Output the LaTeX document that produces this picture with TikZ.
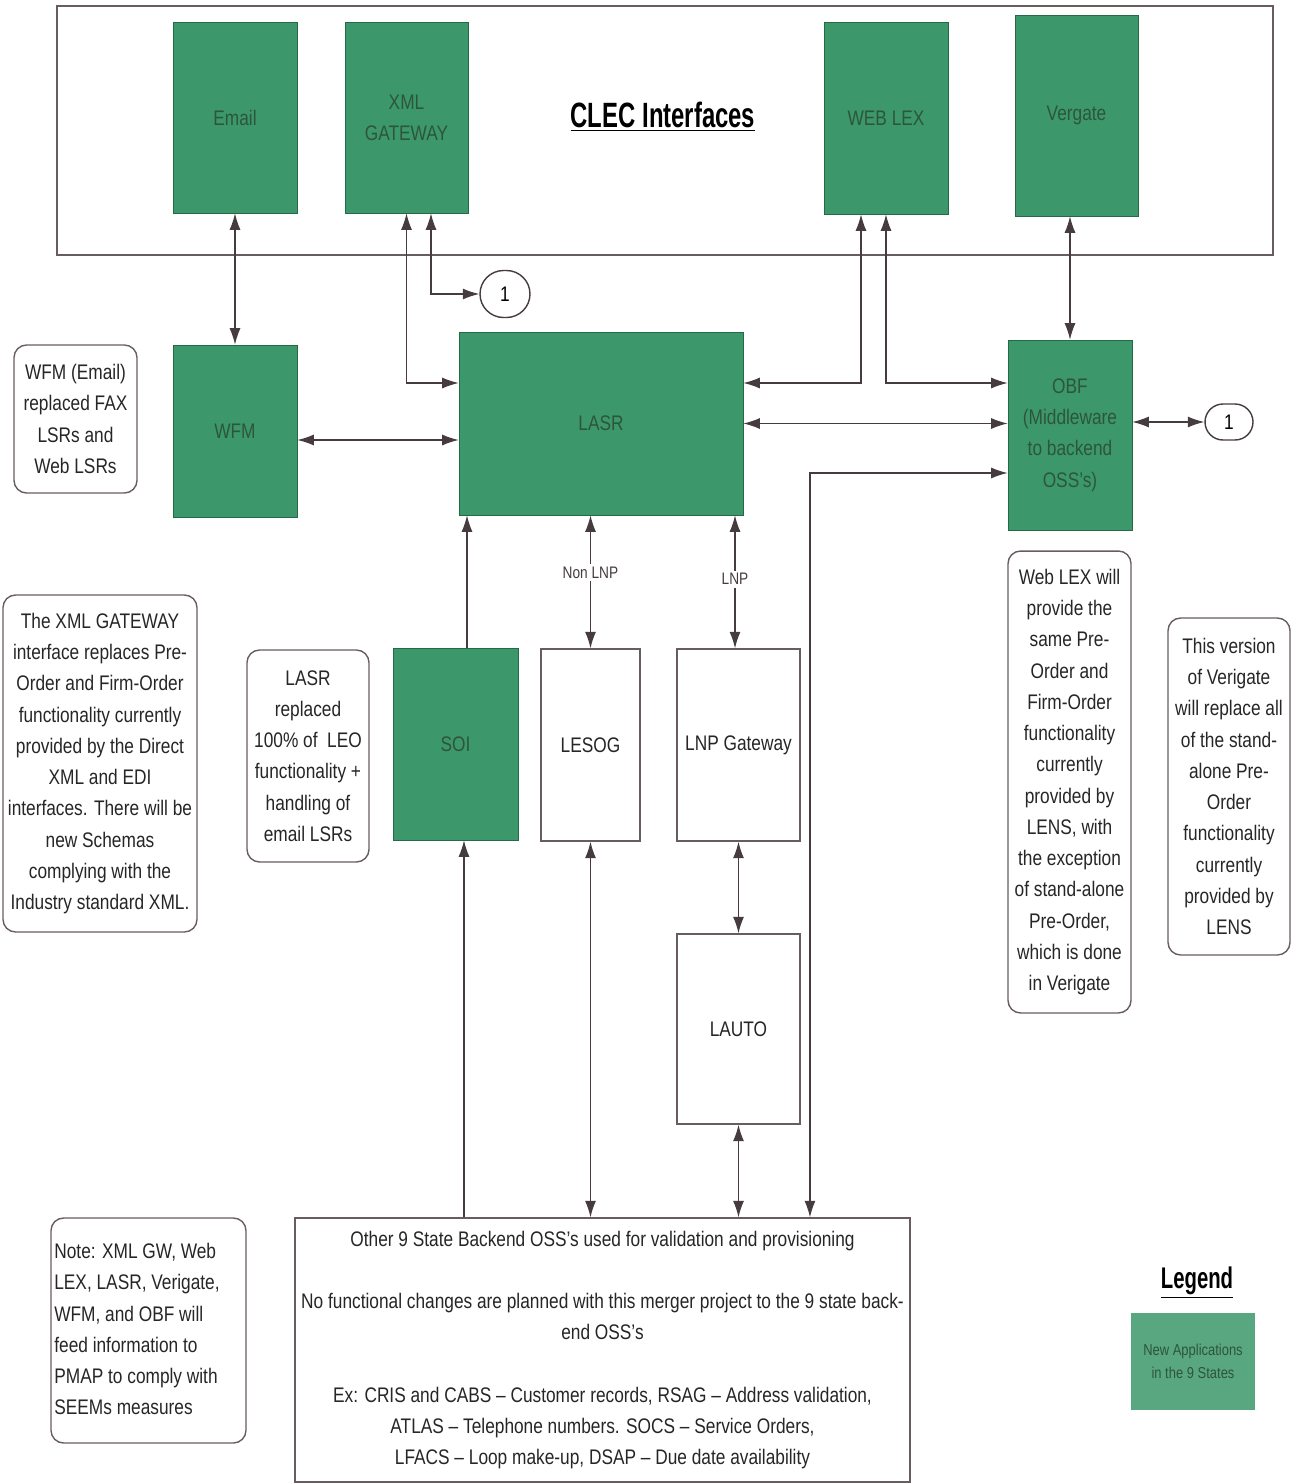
\documentclass[tikz,border=0pt]{standalone}
\usepackage{fontspec}
\setmainfont{Liberation Sans}[FakeStretch=0.82]
\newfontfamily\titlefont{Liberation Sans}[FakeStretch=0.68]
\usepackage{tikz}
\usetikzlibrary{arrows.meta,shapes.misc}
\definecolor{appgreen}{RGB}{60,152,106}
\definecolor{appedge}{RGB}{38,105,70}
\definecolor{apptext}{RGB}{45,85,62}
\definecolor{linegray}{RGB}{70,60,62}
\definecolor{edgegray}{RGB}{105,92,94}
\newcommand{\notesize}{\fontsize{12}{17.8}\selectfont}

\begin{document}
\begin{tikzpicture}[x=0.02cm, y=-0.02cm,
        >={Latex[length=3.3mm,width=2.2mm]},
        conn/.style={linegray, line width=0.7pt},
        appbox/.style={draw=appedge, fill=appgreen, text=apptext, align=center, font=\notesize, inner sep=0pt},
        plainbox/.style={draw=edgegray, line width=0.8pt, fill=white, text=black!85, align=center, font=\notesize, inner sep=0pt},
        notebox/.style={plainbox, rounded corners=0.25cm},
        tag/.style={draw=linegray, line width=0.8pt, rounded rectangle, font=\notesize, inner sep=0pt},
        lbl/.style={fill=white, font=\fontsize{9.5}{11}\selectfont, inner sep=1.5pt}]
        \useasboundingbox (0,0) rectangle (1293,1484);

        % CLEC interfaces frame
        \draw[edgegray, line width=0.8pt] (57,6) rectangle (1273,255);
        \node (title) at (663,117) {\titlefont\fontsize{20}{24}\selectfont\underline{\textbf{CLEC Interfaces}}};
        \node[appbox, minimum width=2.48cm, minimum height=3.82cm] (email) at (235,117.5) {Email};
        \node[appbox, minimum width=2.46cm, minimum height=3.82cm] (xmlgw) at (406.5,117.5) {XML\\GATEWAY};
        \node[appbox, minimum width=2.48cm, minimum height=3.84cm] (weblex) at (886,118) {WEB LEX};
        \node[appbox, minimum width=2.46cm, minimum height=4.02cm] (vergate) at (1076.5,115.5) {Vergate};

        % middle row
        \node[tag, minimum width=1.0cm, minimum height=0.94cm] (tagA) at (505,294) {1};
        \node[notebox, minimum width=2.46cm, minimum height=2.96cm] (wfmnote) at (75.5,419) {WFM (Email)\\replaced FAX\\LSRs and\\Web LSRs};
        \node[appbox, minimum width=2.48cm, minimum height=3.44cm] (wfm) at (235,431) {WFM};
        \node[appbox, minimum width=5.68cm, minimum height=3.66cm] (lasr) at (601,423.5) {LASR};
        \node[appbox, minimum width=2.48cm, minimum height=3.8cm] (obf) at (1070,435) {OBF\\(Middleware\\to backend\\OSS's)};
        \node[tag, minimum width=0.96cm, minimum height=0.72cm] (tagB) at (1229,422) {1};

        % lower row
        \node[notebox, minimum width=3.88cm, minimum height=6.74cm] (xmlnote) at (100,763.5) {The XML GATEWAY\\interface replaces Pre-\\Order and Firm-Order\\functionality currently\\provided by the Direct\\XML and EDI\\interfaces. There will be\\new Schemas\\complying with the\\Industry standard XML.};
        \node[notebox, minimum width=2.44cm, minimum height=4.24cm] (lasrnote) at (308,756) {LASR\\replaced\\100\% of \ LEO\\functionality +\\handling of\\email LSRs};
        \node[appbox, minimum width=2.5cm, minimum height=3.84cm] (soi) at (455.5,744) {SOI};
        \node[plainbox, minimum width=1.98cm, minimum height=3.84cm] (lesog) at (590.5,745) {LESOG};
        \node[plainbox, minimum width=2.46cm, minimum height=3.84cm] (lnpgw) at (738.5,745) {LNP Gateway};
        \node[plainbox, minimum width=2.46cm, minimum height=3.8cm] (lauto) at (738.5,1029) {LAUTO};
        \node[notebox, minimum width=2.46cm, minimum height=9.24cm] (weblexnote) at (1069.5,782) {Web LEX will\\provide the\\same Pre-\\Order and\\Firm-Order\\functionality\\currently\\provided by\\LENS, with\\the exception\\of stand-alone\\Pre-Order,\\which is done\\in Verigate};
        \node[notebox, minimum width=2.44cm, minimum height=6.74cm] (verinote) at (1229,786.5) {This version\\of Verigate\\will replace all\\of the stand-\\alone Pre-\\Order\\functionality\\currently\\provided by\\LENS};

        % bottom
        \node[plainbox, minimum width=12.3cm, minimum height=5.28cm] (backend) at (602.5,1350) {Other 9 State Backend OSS's used for validation and provisioning\\[17.8pt]No functional changes are planned with this merger project to the 9 state back-\\end OSS's\\[17.8pt]Ex: CRIS and CABS -- Customer records, RSAG -- Address validation,\\ATLAS -- Telephone numbers. SOCS -- Service Orders,\\LFACS -- Loop make-up, DSAP -- Due date availability};
        \node[notebox, minimum width=3.9cm, minimum height=4.5cm] (mergenote) at (148.5,1330.5) {\begin{tabular}{@{}l@{}}Note: XML GW, Web\\LEX, LASR, Verigate,\\WFM, and OBF will\\feed information to\\PMAP to comply with\\SEEMs measures\end{tabular}\hspace*{0.46cm}};
        \node (legend) at (1197,1283) {\titlefont\fontsize{17}{20}\selectfont\underline{\textbf{Legend}}};
        \node[appbox, draw=none, fill=appgreen!85!white, minimum width=2.48cm, minimum height=1.94cm, font=\fontsize{9}{13}\selectfont] (legendbox) at (1193,1361.5) {New Applications\\in the 9 States};

        % connectors
        \draw[conn, <->] (email) -- (wfm);
        \draw[conn, <->] (xmlgw.south) |- ([yshift=0.81cm]lasr.west);
        \draw[conn, <->] ([xshift=0.49cm]xmlgw.south) |- (tagA.west);
        \draw[conn, <->] ([xshift=-0.5cm]weblex.south) |- ([yshift=0.81cm]lasr.east);
        \draw[conn, <->] (weblex.south) |- ([yshift=1.04cm]obf.west);
        \draw[conn, <->] (lasr.east) -- (lasr.east -| obf.west);
        \draw[conn, <->] ([xshift=4.15cm]backend.north) |- ([yshift=-0.76cm]obf.west);
        \draw[conn, <->] (vergate.south -| obf.north) -- (obf.north);
        \draw[conn, <->] (obf.east |- tagB.west) -- (tagB.west);
        \draw[conn, <->] ([yshift=-0.18cm]wfm.east) -- ([yshift=-0.18cm]wfm.east -| lasr.west);
        \draw[conn, ->] ([xshift=0.23cm]soi.north) -- ([xshift=0.23cm]soi.north |- lasr.south);
        \draw[conn, ->] ([xshift=0.17cm]soi.south |- backend.north) -- ([xshift=0.17cm]soi.south);
        \draw[conn, <->] (lasr.south -| lesog.north) -- (lesog.north) node[lbl, pos=0.43]{Non LNP};
        \draw[conn, <->] (lesog.south) -- (lesog.south |- backend.north);
        \draw[conn, <->] ([xshift=-0.07cm]lnpgw.north |- lasr.south) -- ([xshift=-0.07cm]lnpgw.north) node[lbl, pos=0.48]{LNP};
        \draw[conn, <->] (lnpgw) -- (lauto);
        \draw[conn, <->] (lauto.south) -- (lauto.south |- backend.north);
\end{tikzpicture}
\end{document}
